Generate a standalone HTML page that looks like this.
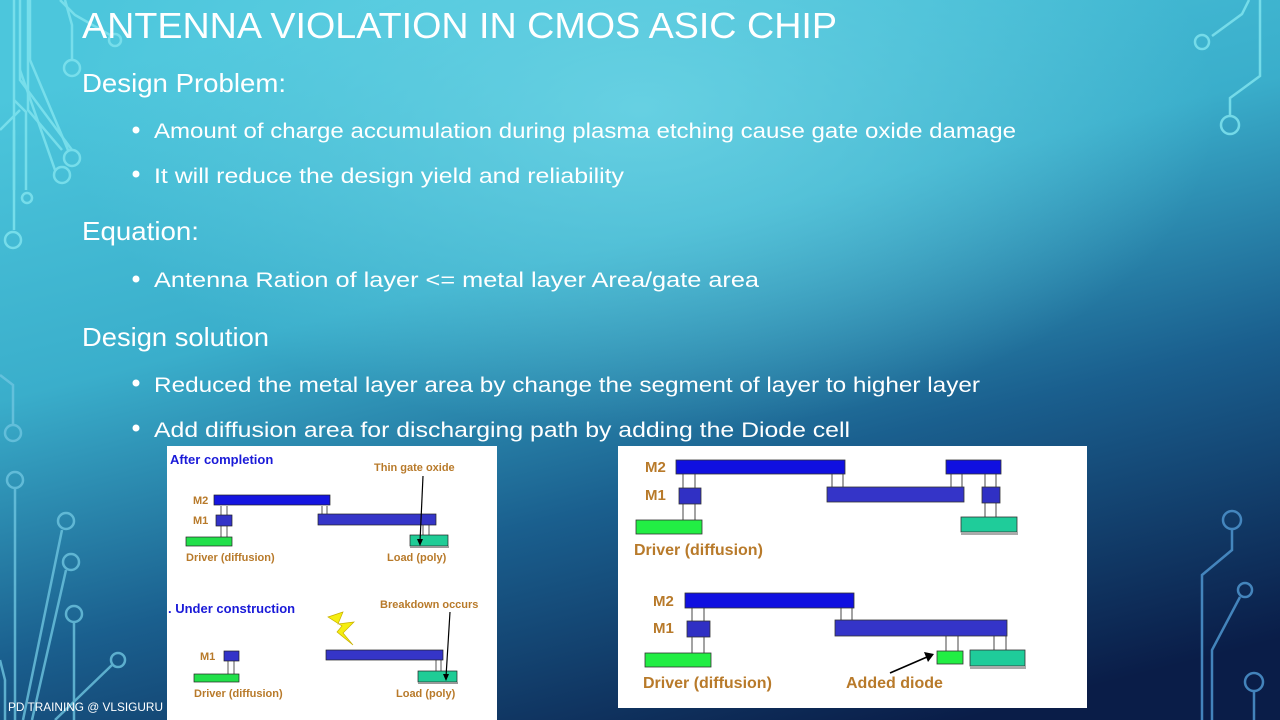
<!DOCTYPE html>
<html><head><meta charset="utf-8"><style>
html,body{margin:0;padding:0;width:1280px;height:720px;overflow:hidden}
svg{display:block}
.h{font-family:"Liberation Sans",sans-serif;fill:#fff}
.lb{font-family:"Liberation Sans",sans-serif;font-weight:bold;fill:#b87a2a}
.bl{font-family:"Liberation Sans",sans-serif;font-weight:bold;fill:#1a1ad8}
</style></head><body>
<svg width="1280" height="720" viewBox="0 0 1280 720" xmlns="http://www.w3.org/2000/svg">
<defs>
<linearGradient id="bg" x1="0.3" y1="0" x2="0.75" y2="1">
<stop offset="0" stop-color="#4cc6dc"/>
<stop offset="0.35" stop-color="#3aaecb"/>
<stop offset="0.65" stop-color="#1a5f8e"/>
<stop offset="1" stop-color="#0a1d48"/>
</linearGradient>
<radialGradient id="hl" cx="0.5" cy="0.15" r="0.45">
<stop offset="0" stop-color="#6fd6e6" stop-opacity="0.8"/>
<stop offset="1" stop-color="#6fd6e6" stop-opacity="0"/>
</radialGradient>
</defs>
<rect width="1280" height="720" fill="url(#bg)"/>
<rect width="1280" height="720" fill="url(#hl)"/>
<!-- left circuits -->
<g fill="none" stroke="#7fe3ee" stroke-width="2.5" opacity="0.85">
<path d="M14 0V130M28 0V110L62 150M20 0V80L72 150"/>
<path d="M60 0L75 15L110 35"/><circle cx="115" cy="40" r="6"/>
<path d="M65 0L72 25V60"/><circle cx="72" cy="68" r="8"/>
<path d="M30 0V60L68 150"/><circle cx="72" cy="158" r="8"/>
<path d="M20 70L55 170"/><circle cx="62" cy="175" r="8"/>
<path d="M0 130L20 110M14 130V190"/><circle cx="13" cy="240" r="8"/>
<path d="M14 100L26 112V190"/><circle cx="27" cy="198" r="5"/>
<path d="M14 130V230"/>
</g>
<g fill="none" stroke="#6ec5e0" stroke-width="2.5" opacity="0.8">
<path d="M0 375L13 385V425"/><circle cx="13" cy="433" r="8"/>
<circle cx="15" cy="480" r="8"/><path d="M15 488V720"/>
<path d="M23 720L62 530"/><circle cx="66" cy="521" r="8"/>
<path d="M32 720L66 570"/><circle cx="71" cy="562" r="8"/>
<circle cx="74" cy="614" r="8"/><path d="M74 622V720"/>
<path d="M0 660L5 680V720M55 720L112 665"/><circle cx="118" cy="660" r="7"/>
</g>
<!-- right circuits -->
<g fill="none" stroke="#7fe3ee" stroke-width="2.5" opacity="0.85">
<path d="M1249 0L1242 14L1212 36"/><circle cx="1202" cy="42" r="7"/>
<path d="M1260 0V76L1230 98V115"/><circle cx="1230" cy="125" r="9"/>
</g>
<g fill="none" stroke="#4a8fc8" stroke-width="2.5" opacity="0.9">
<circle cx="1232" cy="520" r="9"/><path d="M1232 529V550L1202 575V720"/>
<circle cx="1245" cy="590" r="7"/><path d="M1240 597L1212 650V720"/>
<circle cx="1254" cy="682" r="9"/><path d="M1254 691V720"/>
</g>
<!-- text -->
<text class="h" x="82" y="38" font-size="36" textLength="755" lengthAdjust="spacingAndGlyphs">ANTENNA VIOLATION  IN CMOS ASIC CHIP</text>
<text class="h" x="82" y="92" font-size="26" textLength="204" lengthAdjust="spacingAndGlyphs">Design Problem:</text>
<text class="h" x="82" y="240" font-size="26" textLength="117" lengthAdjust="spacingAndGlyphs">Equation:</text>
<text class="h" x="82" y="346" font-size="26" textLength="187" lengthAdjust="spacingAndGlyphs">Design solution</text>
<g class="h" font-size="21">
<circle cx="136" cy="130" r="3.5" fill="#fff"/><text x="154" y="138" textLength="862" lengthAdjust="spacingAndGlyphs">Amount of charge accumulation during plasma etching cause gate oxide damage</text>
<circle cx="136" cy="174" r="3.5" fill="#fff"/><text x="154" y="183" textLength="470" lengthAdjust="spacingAndGlyphs">It will reduce the design yield and reliability</text>
<circle cx="136" cy="279" r="3.5" fill="#fff"/><text x="154" y="287" textLength="605" lengthAdjust="spacingAndGlyphs">Antenna Ration of layer &lt;= metal layer Area/gate area</text>
<circle cx="136" cy="383" r="3.5" fill="#fff"/><text x="154" y="392" textLength="826" lengthAdjust="spacingAndGlyphs">Reduced the metal layer area by change the segment of layer to higher layer</text>
<circle cx="136" cy="428" r="3.5" fill="#fff"/><text x="154" y="437" textLength="696" lengthAdjust="spacingAndGlyphs">Add diffusion area for discharging path by adding the Diode cell</text>
</g>
<text class="h" x="8" y="711" font-size="12" textLength="155" lengthAdjust="spacingAndGlyphs">PD TRAINING @ VLSIGURU</text>
<!-- left image -->
<rect x="167" y="446" width="330" height="274" fill="#fff"/>
<g stroke="#555" stroke-width="1" fill="none">
<path d="M221 506V515M227 506V515M221 526V537M227 526V537M322 506V514M327 506V514M423 525V535M429 525V535"/>
<path d="M228 661V674M234 661V674M436 660V671M441 660V671"/>
</g>
<rect x="214" y="495" width="116" height="10" fill="#1515e0" stroke="#222" stroke-width="0.7"/>
<rect x="216" y="515" width="16" height="11" fill="#3333c8" stroke="#222" stroke-width="0.7"/>
<rect x="318" y="514" width="118" height="11" fill="#3535c8" stroke="#222" stroke-width="0.7"/>
<rect x="186" y="537" width="46" height="9" fill="#22e04a" stroke="#222" stroke-width="0.7"/>
<rect x="410" y="535" width="38" height="11" fill="#1fcc96" stroke="#222" stroke-width="0.7"/>
<rect x="410" y="546" width="39" height="2" fill="#999"/>
<rect x="224" y="651" width="15" height="10" fill="#3333c8" stroke="#222" stroke-width="0.7"/>
<rect x="194" y="674" width="45" height="8" fill="#22e04a" stroke="#222" stroke-width="0.7"/>
<rect x="326" y="650" width="117" height="10" fill="#3535c8" stroke="#222" stroke-width="0.7"/>
<rect x="418" y="671" width="39" height="11" fill="#1fcc96" stroke="#222" stroke-width="0.7"/>
<rect x="418" y="682" width="40" height="2" fill="#999"/>
<path d="M423 476L420 542" stroke="#000" stroke-width="1.2"/><path d="M417 539L420 546L423 539Z"/>
<path d="M450 612L446 677" stroke="#000" stroke-width="1.2"/><path d="M443 674L446 681L449 674Z"/>
<path d="M328 617L343 612L338 624L354 622L343 633L353 645L337 632L342 626Z" fill="#f5ee10" stroke="#c8b000" stroke-width="0.7"/>
<text class="bl" x="170" y="464" font-size="13">After completion</text>
<text class="bl" x="168" y="613" font-size="13">. Under construction</text>
<g class="lb" font-size="11">
<text x="193" y="504">M2</text><text x="193" y="524">M1</text><text x="200" y="660">M1</text>
<text x="186" y="561">Driver (diffusion)</text><text x="387" y="561">Load (poly)</text>
<text x="374" y="471">Thin gate oxide</text><text x="380" y="608">Breakdown occurs</text>
<text x="194" y="697">Driver (diffusion)</text><text x="396" y="697">Load (poly)</text>
</g>
<!-- right image -->
<rect x="618" y="446" width="469" height="262" fill="#fff"/>
<g stroke="#666" stroke-width="1.2" fill="none">
<path d="M683 474V488M695 474V488M683 504V520M695 504V520M832 474V487M843 474V487M951 474V487M962 474V487M985 474V487M996 474V487M985 503V517M996 503V517"/>
<path d="M692 608V621M704 608V621M692 637V653M704 637V653M841 608V620M852 608V620M946 636V651M958 636V651M994 636V650M1006 636V650"/>
</g>
<g stroke="#333" stroke-width="0.8">
<rect x="676" y="460" width="169" height="14" fill="#1010e0"/>
<rect x="679" y="488" width="22" height="16" fill="#3030c4"/>
<rect x="636" y="520" width="66" height="14" fill="#22ee44"/>
<rect x="827" y="487" width="137" height="15" fill="#3434c8"/>
<rect x="946" y="460" width="55" height="14" fill="#1010e0"/>
<rect x="982" y="487" width="18" height="16" fill="#3030c4"/>
<rect x="961" y="517" width="56" height="15" fill="#1fcc9a"/>
<rect x="685" y="593" width="169" height="15" fill="#1010e0"/>
<rect x="687" y="621" width="23" height="16" fill="#3030c4"/>
<rect x="645" y="653" width="66" height="14" fill="#22ee44"/>
<rect x="835" y="620" width="172" height="16" fill="#3434c8"/>
<rect x="937" y="651" width="26" height="13" fill="#22ee44"/>
<rect x="970" y="650" width="55" height="16" fill="#1fcc9a"/>
</g>
<rect x="961" y="532" width="57" height="3" fill="#aaa"/>
<rect x="970" y="666" width="56" height="3" fill="#aaa"/>
<path d="M890 673L927 657" stroke="#000" stroke-width="1.6"/><path d="M924 652L934 654L928 662Z"/>
<g class="lb" font-size="15">
<text x="645" y="472">M2</text><text x="645" y="500">M1</text>
<text x="653" y="606">M2</text><text x="653" y="633">M1</text>
<text x="634" y="555" font-size="16">Driver (diffusion)</text>
<text x="643" y="688" font-size="16">Driver (diffusion)</text>
<text x="846" y="688" font-size="16">Added diode</text>
</g>
</svg>
</body></html>
